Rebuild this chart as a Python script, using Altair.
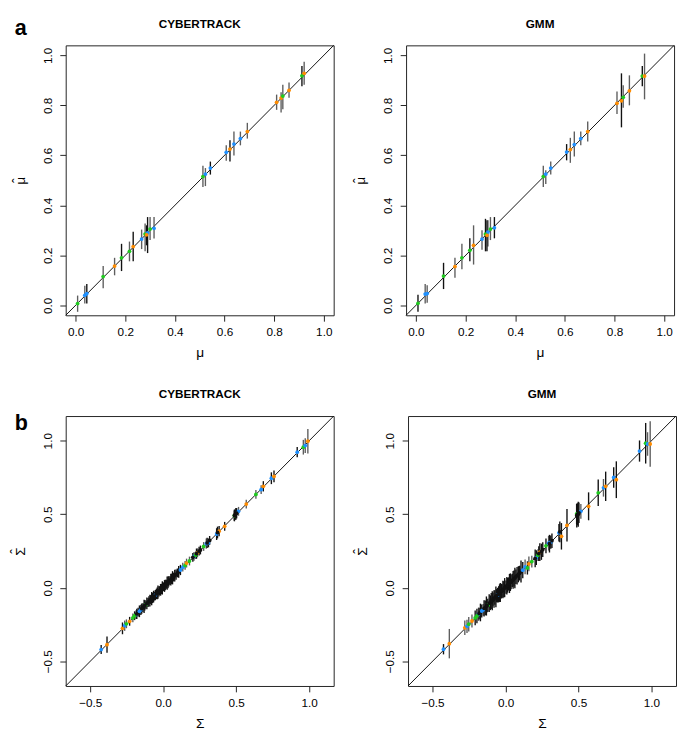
import altair as alt
import pandas as pd

# ---------------- panel a : mu ----------------
mu_true = [0.008, 0.037, 0.045, 0.111, 0.157, 0.185, 0.217, 0.232, 0.266, 0.280, 0.290, 0.286, 0.300, 0.316,
           0.513, 0.523, 0.543, 0.607, 0.622, 0.638, 0.664, 0.692, 0.810, 0.828, 0.835, 0.860, 0.912, 0.921]
mu_clone = [1, 2, 2, 1, 3, 1, 1, 3, 2, 1, 2, 3, 1, 2, 1, 2, 2, 2, 3, 2, 2, 3, 3, 3, 1, 3, 1, 3]

ct_mu_est = [0.007, 0.040, 0.047, 0.115, 0.157, 0.190, 0.216, 0.235, 0.265, 0.285, 0.290, 0.282, 0.305, 0.308,
             0.515, 0.525, 0.549, 0.612, 0.625, 0.645, 0.667, 0.695, 0.812, 0.829, 0.837, 0.860, 0.918, 0.928]
ct_mu_lo = [-0.026, 0.007, 0.007, 0.068, 0.120, 0.137, 0.176, 0.176, 0.225, 0.216, 0.209, 0.240, 0.261, 0.267,
            0.473, 0.477, 0.523, 0.578, 0.575, 0.599, 0.640, 0.667, 0.782, 0.771, 0.784, 0.830, 0.876, 0.882]
ct_mu_hi = [0.039, 0.078, 0.085, 0.157, 0.190, 0.246, 0.255, 0.294, 0.303, 0.327, 0.353, 0.320, 0.353, 0.353,
            0.558, 0.549, 0.575, 0.640, 0.660, 0.695, 0.695, 0.730, 0.843, 0.852, 0.882, 0.891, 0.957, 0.974]
ct_mu_dark = [0, 0, 1, 0, 0, 1, 0, 1, 0, 0, 1, 1, 0, 0, 0, 0, 1, 0, 1, 0, 0, 0, 0, 0, 0, 0, 1, 0]

gmm_mu_est = [0.008, 0.045, 0.047, 0.117, 0.155, 0.190, 0.220, 0.240, 0.265, 0.285, 0.293, 0.280, 0.305, 0.310,
              0.515, 0.525, 0.549, 0.613, 0.623, 0.643, 0.667, 0.695, 0.808, 0.818, 0.832, 0.858, 0.917, 0.917]
gmm_mu_lo = [-0.026, 0.007, 0.010, 0.065, 0.110, 0.144, 0.176, 0.163, 0.222, 0.216, 0.235, 0.216, 0.261, 0.268,
             0.473, 0.485, 0.523, 0.580, 0.570, 0.595, 0.640, 0.655, 0.765, 0.712, 0.790, 0.800, 0.876, 0.824]
gmm_mu_hi = [0.042, 0.085, 0.080, 0.170, 0.190, 0.246, 0.268, 0.320, 0.300, 0.346, 0.340, 0.340, 0.353, 0.353,
             0.558, 0.540, 0.575, 0.645, 0.670, 0.695, 0.695, 0.735, 0.855, 0.928, 0.880, 0.920, 0.957, 1.007]
gmm_mu_dark = [1, 0, 0, 1, 0, 0, 1, 0, 0, 1, 0, 1, 0, 1, 0, 0, 0, 1, 0, 0, 0, 0, 0, 1, 0, 0, 1, 0]

# ---------------- panel b : Sigma ----------------
sig_true = [
    -0.425, -0.385, -0.279, -0.264, -0.252, -0.230, -0.208, -0.185, -0.153, -0.120, -0.054, 0.134, 0.150, 0.160,
    0.180, 0.211, 0.222, 0.235, 0.277, 0.295, 0.310, 0.366, 0.383, 0.421, 0.487, 0.516, 0.569, 0.635, 0.671,
    0.686, 0.741, 0.759, 0.918, 0.960, 0.973, 0.991,
    -0.196, -0.181, -0.172, -0.163, -0.147, -0.139, -0.131, -0.126, -0.112, -0.104, -0.098, -0.091, -0.086,
    -0.079, -0.073, -0.066, -0.061, -0.047, -0.041, -0.036, -0.029, -0.024, -0.018, -0.012, -0.006, 0.003,
    0.009, 0.014, 0.021, 0.027, 0.033, 0.038, 0.046, 0.052, 0.058, 0.064, 0.071, 0.079, 0.088, 0.097, 0.106, 0.118,
    0.203, 0.228, 0.246, 0.255, 0.301, 0.318, 0.372, 0.488, 0.493, 0.498, 0.503]
# 1 green, 2 blue, 3 orange, 0 = entries that appear black in the picture
sig_clone = [
    2, 3, 3, 2, 1, 3, 1, 2, 2, 1, 2, 2, 1, 3, 1, 2, 1, 3, 1, 2, 2, 2, 3, 3, 1, 2, 3, 1, 2, 3, 2, 3, 2, 1, 2, 3,
    1, 0, 0, 2, 0, 0, 0, 0, 0, 0, 0, 0, 0, 0, 0, 0, 0, 0, 0, 0, 0, 0, 0, 0, 0, 0, 0, 0, 0, 0, 0, 0, 0, 0, 0, 0,
    0, 0, 0, 0, 0, 2,
    0, 0, 0, 0, 0, 0, 0, 0, 0, 0, 0]

ct_sig_est = [
    -0.420, -0.387, -0.276, -0.258, -0.245, -0.228, -0.205, -0.182, -0.150, -0.115, -0.050, 0.140, 0.152, 0.168,
    0.182, 0.214, 0.222, 0.238, 0.281, 0.300, 0.305, 0.365, 0.385, 0.418, 0.491, 0.520, 0.569, 0.635, 0.668,
    0.690, 0.745, 0.757, 0.922, 0.956, 0.967, 0.997,
    -0.190, -0.178, -0.165, -0.160, -0.142, -0.135, -0.126, -0.120, -0.106, -0.100, -0.092, -0.087, -0.080,
    -0.074, -0.069, -0.060, -0.057, -0.042, -0.038, -0.030, -0.025, -0.019, -0.014, -0.008, -0.001, 0.007,
    0.012, 0.019, 0.024, 0.031, 0.036, 0.043, 0.049, 0.056, 0.061, 0.068, 0.073, 0.083, 0.090, 0.101, 0.108, 0.121,
    0.207, 0.232, 0.249, 0.257, 0.305, 0.322, 0.376, 0.492, 0.497, 0.503, 0.507]
ct_sig_hw = [
    0.030, 0.055, 0.040, 0.035, 0.030, 0.030, 0.030, 0.030, 0.035, 0.030, 0.035, 0.030, 0.030, 0.030,
    0.030, 0.030, 0.025, 0.030, 0.030, 0.035, 0.030, 0.040, 0.035, 0.030, 0.035, 0.030, 0.030, 0.030, 0.030,
    0.035, 0.040, 0.040, 0.035, 0.050, 0.050, 0.083,
    0.030, 0.035, 0.030, 0.040, 0.035, 0.030, 0.045, 0.035, 0.040, 0.030, 0.035, 0.040, 0.030,
    0.045, 0.035, 0.040, 0.030, 0.035, 0.040, 0.045, 0.035, 0.030, 0.040, 0.035, 0.045, 0.030,
    0.040, 0.035, 0.030, 0.045, 0.040, 0.035, 0.030, 0.040, 0.035, 0.045, 0.030, 0.040, 0.035, 0.030, 0.040, 0.035,
    0.030, 0.035, 0.030, 0.030, 0.035, 0.030, 0.040, 0.040, 0.035, 0.040, 0.035]
ct_sig_dark = [
    1, 1, 1, 0, 0, 1, 0, 1, 1, 0, 1, 0, 0, 0, 0, 0, 0, 0, 0, 0, 1, 1, 1, 1, 1, 0, 0, 0, 0, 1, 1, 1, 1, 0, 0, 0,
    1, 1, 1, 1, 1, 1, 1, 1, 1, 1, 1, 1, 1, 1, 1, 1, 1, 1, 1, 1, 1, 1, 1, 1, 1, 1, 1, 1, 1, 1, 1, 1, 1, 1, 1, 1,
    1, 1, 1, 1, 1, 1,
    1, 1, 1, 1, 1, 1, 1, 1, 1, 1, 1]

gmm_sig_est = [
    -0.418, -0.380, -0.272, -0.262, -0.248, -0.226, -0.205, -0.180, -0.150, -0.118, -0.050, 0.142, 0.135, 0.162,
    0.178, 0.205, 0.222, 0.242, 0.285, 0.303, 0.310, 0.374, 0.350, 0.425, 0.502, 0.520, 0.554, 0.646, 0.680,
    0.690, 0.750, 0.735, 0.930, 0.983, 0.978, 0.978,
    -0.192, -0.175, -0.168, -0.158, -0.140, -0.137, -0.124, -0.122, -0.104, -0.102, -0.090, -0.088, -0.078,
    -0.076, -0.066, -0.062, -0.054, -0.044, -0.036, -0.032, -0.023, -0.021, -0.012, -0.010, 0.001, 0.005,
    0.014, 0.017, 0.026, 0.029, 0.038, 0.040, 0.051, 0.054, 0.063, 0.066, 0.075, 0.082, 0.092, 0.099, 0.111, 0.120,
    0.200, 0.232, 0.245, 0.260, 0.300, 0.320, 0.380, 0.490, 0.500, 0.500, 0.510]
gmm_sig_hw = [
    0.035, 0.100, 0.050, 0.045, 0.050, 0.045, 0.050, 0.045, 0.040, 0.045, 0.050, 0.050, 0.045, 0.050,
    0.040, 0.050, 0.040, 0.060, 0.050, 0.050, 0.045, 0.060, 0.090, 0.110, 0.070, 0.050, 0.095, 0.090, 0.060,
    0.100, 0.070, 0.125, 0.072, 0.138, 0.080, 0.155,
    0.050, 0.040, 0.060, 0.045, 0.055, 0.050, 0.065, 0.045, 0.060, 0.050, 0.055, 0.065, 0.045,
    0.060, 0.050, 0.070, 0.045, 0.055, 0.060, 0.065, 0.050, 0.045, 0.060, 0.055, 0.065, 0.045,
    0.060, 0.050, 0.045, 0.065, 0.060, 0.050, 0.045, 0.060, 0.055, 0.070, 0.050, 0.060, 0.055, 0.050, 0.075, 0.055,
    0.060, 0.050, 0.055, 0.050, 0.060, 0.050, 0.070, 0.080, 0.075, 0.085, 0.070]
gmm_sig_dark = [
    1, 0, 0, 0, 0, 0, 1, 0, 0, 0, 1, 0, 1, 0, 0, 1, 0, 1, 1, 0, 1, 1, 1, 1, 1, 0, 1, 1, 0, 1, 1, 1, 1, 1, 0, 0,
    1, 1, 1, 1, 1, 1, 1, 1, 1, 1, 1, 1, 1, 1, 1, 1, 1, 1, 1, 1, 1, 1, 1, 1, 1, 1, 1, 1, 1, 1, 1, 1, 1, 1, 1, 1,
    1, 1, 1, 1, 1, 1,
    1, 1, 1, 1, 1, 1, 1, 1, 1, 1, 1]

# axis limits (R xlim/ylim extended by 4%) and ticks
mu_domain = [-0.04, 1.04]
mu_ticks = [0.0, 0.2, 0.4, 0.6, 0.8, 1.0]
sig_domain = [-0.668, 1.168]
sig_ticks = [-0.5, 0.0, 0.5, 1.0]

CLONE_COLORS = {0: "#111111", 1: "#1fcb1f", 2: "#1e90ff", 3: "#ff8c00"}
BAR_COLORS = {1: "#111111", 0: "#5e5e5e"}
FONT = "Liberation Sans"
W, H = 274, 276


def make_df(truth, est, lo, hi, dark, clone):
    df = pd.DataFrame({"truth": truth, "est": est, "lo": lo, "hi": hi, "dark": dark, "clone": clone})
    df["pcol"] = df["clone"].map(CLONE_COLORS)
    df["bcol"] = df["dark"].map(BAR_COLORS)
    return df


def label(text, x, y, size, align, baseline):
    return alt.Chart(pd.DataFrame({"t": [text]})).mark_text(
        align=align, baseline=baseline, fontSize=size, fontWeight="bold", font=FONT, color="black"
    ).encode(text="t:N", x=alt.value(x), y=alt.value(y))


def panel(df, domain, ticks, title, xtitle, ytitle, hat_lh, letter=None, letter_y=0):
    sc = alt.Scale(domain=domain, nice=False, zero=False)
    xax = alt.Axis(values=ticks, format=".1f", title=xtitle, grid=False, domain=False, tickSize=6,
                   labelFontSize=12, labelPadding=6, titlePadding=8, titleFontSize=14,
                   titleFontWeight="normal", labelFlush=False)
    yax = alt.Axis(values=ticks, format=".1f", title=["ˆ", ytitle], grid=False, domain=False, tickSize=6,
                   labelFontSize=12, labelPadding=6, labelAngle=270, labelAlign="center",
                   labelBaseline="bottom", titlePadding=14, titleFontSize=14, titleFontWeight="normal",
                   titleLineHeight=hat_lh, labelFlush=False)
    diag_df = pd.DataFrame({"lo": [domain[0]], "hi": [domain[1]]})
    diag = alt.Chart(diag_df).mark_rule(color="#111111", strokeWidth=1).encode(
        x=alt.X("lo:Q", scale=sc, axis=xax), y=alt.Y("lo:Q", scale=sc, axis=yax),
        x2="hi:Q", y2="hi:Q")
    base = alt.Chart(df)
    bars = base.mark_rule(strokeWidth=1.4).encode(
        x=alt.X("truth:Q", scale=sc, axis=xax), y=alt.Y("lo:Q", scale=sc, axis=yax), y2="hi:Q",
        color=alt.Color("bcol:N", scale=None))
    pts = base.mark_circle(size=15, opacity=1).encode(
        x=alt.X("truth:Q", scale=sc, axis=xax), y=alt.Y("est:Q", scale=sc, axis=yax),
        color=alt.Color("pcol:N", scale=None))
    layers = [diag, bars, pts, label(title, W / 2, -22, 12, "center", "middle")]
    if letter:
        layers.append(label(letter, -52, letter_y, 22, "left", "top"))
    return alt.layer(*layers).properties(width=W, height=H)


df_a_ct = make_df(mu_true, ct_mu_est, ct_mu_lo, ct_mu_hi, ct_mu_dark, mu_clone)
df_a_gmm = make_df(mu_true, gmm_mu_est, gmm_mu_lo, gmm_mu_hi, gmm_mu_dark, mu_clone)

ct_lo = [e - h for e, h in zip(ct_sig_est, ct_sig_hw)]
ct_hi = [e + h for e, h in zip(ct_sig_est, ct_sig_hw)]
gm_lo = [e - h for e, h in zip(gmm_sig_est, gmm_sig_hw)]
gm_hi = [e + h for e, h in zip(gmm_sig_est, gmm_sig_hw)]
df_b_ct = make_df(sig_true, ct_sig_est, ct_lo, ct_hi, ct_sig_dark, sig_clone)
df_b_gmm = make_df(sig_true, gmm_sig_est, gm_lo, gm_hi, gmm_sig_dark, sig_clone)

a1 = panel(df_a_ct, mu_domain, mu_ticks, "CYBERTRACK", "μ", "μ", 3, "a", -28)
a2 = panel(df_a_gmm, mu_domain, mu_ticks, "GMM", "μ", "μ", 3)
b1 = panel(df_b_ct, sig_domain, sig_ticks, "CYBERTRACK", "Σ", "Σ", 5, "b", -3)
b2 = panel(df_b_gmm, sig_domain, sig_ticks, "GMM", "Σ", "Σ", 5)

chart = alt.vconcat(
    alt.hconcat(a1, a2, spacing=16),
    alt.hconcat(b1, b2, spacing=16),
    spacing=28,
).properties(padding=0).configure_view(
    stroke="#222222", strokeWidth=1
).configure_axis(
    labelFont=FONT, titleFont=FONT, labelColor="black", titleColor="black", tickColor="#222222"
)

chart.save("out.html", embed_options={"renderer": "svg", "actions": False})
